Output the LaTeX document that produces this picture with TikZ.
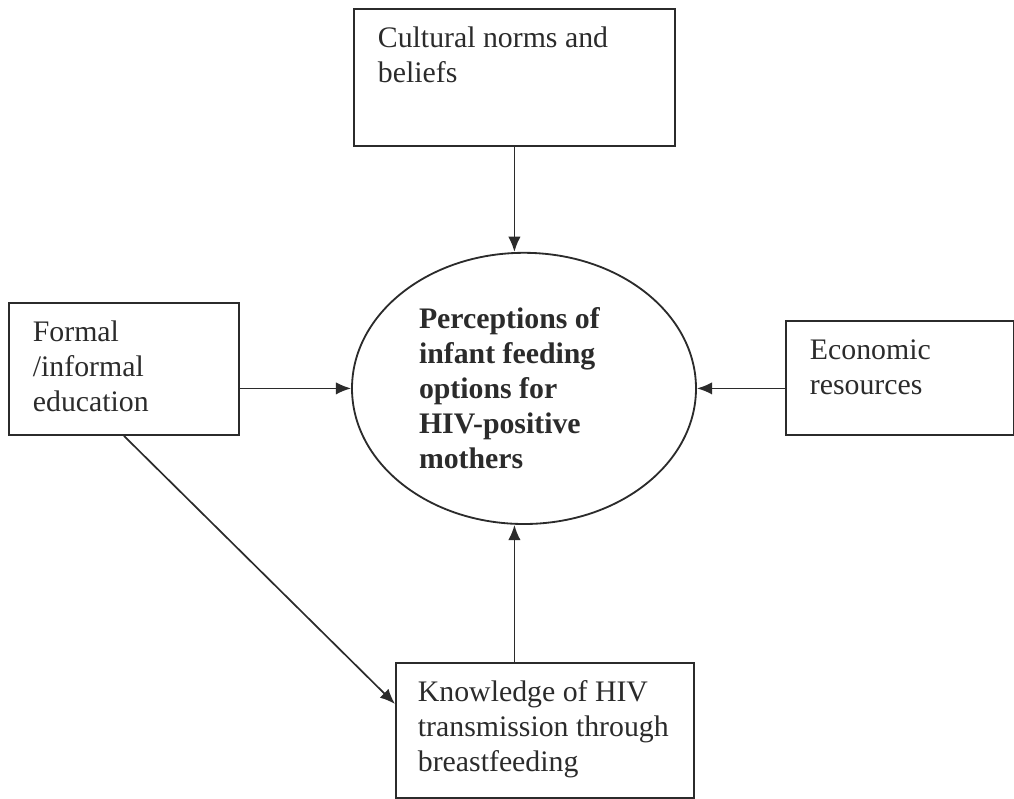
\documentclass[tikz,border=0pt]{standalone}
\usepackage{fontspec}
\setmainfont{Liberation Serif}
\usepackage{xcolor}
\usepackage{tikz}
\usetikzlibrary{shapes.geometric, arrows.meta}

\definecolor{ink}{HTML}{2B2B2B}
\newcommand{\diagfont}{\fontsize{21.2pt}{24.9pt}\selectfont}

\tikzset{
    factor/.style={draw=ink, line width=1.3pt, rectangle, anchor=north west, align=flush left,
        inner xsep=0.6cm, inner ysep=0.455cm, text height=0.52cm, text=ink, font=\diagfont},
    link/.style={-{Latex[length=0.38cm, width=0.31cm]}, draw=ink, line width=1.2pt}
}

\begin{document}
\begin{tikzpicture}
        \useasboundingbox (0,0) rectangle (25.35,-19.95);

        % Central outcome
        \node[draw=ink, line width=1.3pt, ellipse, minimum width=8.6cm, minimum height=6.78cm,
            inner sep=0pt, text width=5.25cm, align=flush left, text=ink, font=\diagfont\bfseries]
            (perc) at (13.1,-9.71) {Perceptions of\\infant feeding\\options for\\HIV-positive\\mothers};

        % Factors
        \node[factor, text width=6.825cm, text depth=1.995cm] (cult) at (8.825,-0.2) {Cultural norms and\\beliefs};
        \node[factor, text width=4.55cm, text depth=1.87cm] (edu) at (0.2,-7.55) {Formal\\/informal\\education};
        \node[factor, text width=4.5cm, text depth=1.42cm] (econ) at (19.625,-8.0) {Economic\\resources};
        \node[factor, inner xsep=0.55cm, text width=6.35cm, text depth=1.945cm] (know) at (9.875,-16.55) {Knowledge of HIV\\transmission through\\breastfeeding};

        % Influences
        \draw[link] (cult.south) -- (cult.south |- perc.north);
        \draw[link] (edu.east |- perc.west) -- (perc.west);
        \draw[link] (econ.west |- perc.east) -- (perc.east);
        \draw[link] (know.north -| cult.south) -- (cult.south |- perc.south);
        \draw[link] (edu.south) -- ([yshift=0.66cm]know.west);
    \end{tikzpicture}
\end{document}
